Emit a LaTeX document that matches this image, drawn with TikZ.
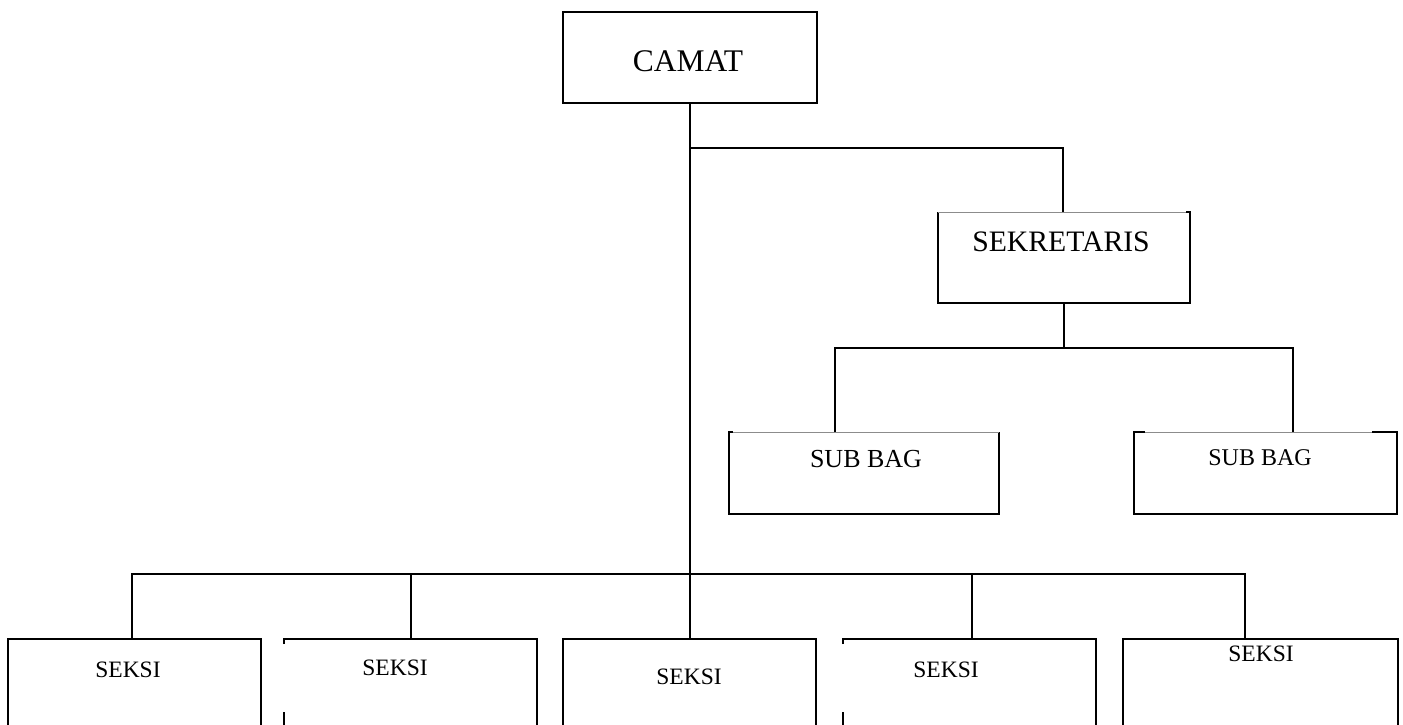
\documentclass[tikz,border=0pt]{standalone}
\usepackage{fontspec}
\setmainfont{Liberation Serif}
\begin{document}
\begin{tikzpicture}[x=1pt,y=-1pt,line width=1.7pt,
  frame/.style={rectangle,inner sep=0pt,outer sep=0pt,anchor=north west},
  fullbox/.style={frame,draw=black},
  softtop/.style={draw=black!45,line width=1pt},
  big/.style={font=\fontsize{31.5}{37}\selectfont},
  mid/.style={font=\fontsize{29.7}{35}\selectfont},
  sub/.style={font=\fontsize{26}{31}\selectfont},
  small/.style={font=\fontsize{23.5}{28}\selectfont}]
\useasboundingbox (0,0) rectangle (1403,725);
\clip (0,0) rectangle (1403,725);

% boxes
\node[fullbox,minimum width=254pt,minimum height=91pt] (camat) at (563,12) {};
\node[frame,minimum width=252pt,minimum height=91pt] (sek) at (938,212) {};
\node[frame,minimum width=270pt,minimum height=82pt] (sb1) at (729,432) {};
\node[frame,minimum width=263pt,minimum height=82pt] (sb2) at (1134,432) {};
\node[fullbox,minimum width=253pt,minimum height=120pt] (k1) at (8,639) {};
\node[frame,minimum width=253pt,minimum height=120pt] (k2) at (284,639) {};
\node[fullbox,minimum width=253pt,minimum height=120pt] (k3) at (563,639) {};
\node[frame,minimum width=253pt,minimum height=120pt] (k4) at (843,639) {};
\node[fullbox,minimum width=275pt,minimum height=120pt] (k5) at (1123,639) {};

% partial frames
\draw (sek.north west) -- (sek.south west) -- (sek.south east) -- (sek.north east) -- ++(-4,0);
\draw[softtop] (sek.north west) -- ([xshift=-4pt]sek.north east);
\draw ([xshift=4pt]sb1.north west) -- (sb1.north west) -- (sb1.south west) -- (sb1.south east) -- (sb1.north east);
\draw[softtop] ([xshift=4pt]sb1.north west) -- (sb1.north east);
\draw ([xshift=11pt]sb2.north west) -- (sb2.north west) -- (sb2.south west) -- (sb2.south east) -- (sb2.north east) -- ++(-25,0);
\draw[softtop] ([xshift=11pt]sb2.north west) -- ([xshift=-25pt]sb2.north east);
\draw ([yshift=-5pt]k2.north west) -- (k2.north west) -- (k2.north east) -- (k2.south east) -- (k2.south west) -- (k2.west |- 0,712);
\draw ([yshift=-5pt]k4.north west) -- (k4.north west) -- (k4.north east) -- (k4.south east) -- (k4.south west) -- (k4.west |- 0,712);

% texts
\node[big] (tcamat) at (688,61) {CAMAT};
\node[mid] (tsek) at (1061,242) {SEKRETARIS};
\node[sub] (tsb1) at (866,459) {SUB BAG};
\node[sub,font=\fontsize{24}{29}\selectfont] (tsb2) at (1260,458) {SUB BAG};
\node[small] (tk1) at (128,670) {SEKSI};
\node[small] (tk2) at (395,668) {SEKSI};
\node[small] (tk3) at (689,677) {SEKSI};
\node[small] (tk4) at (946,670) {SEKSI};
\node[small] (tk5) at (1261,654) {SEKSI};

% junction coordinates
\coordinate (j1) at (689,148);
\coordinate (j2) at (1063,148);
\coordinate (s1) at (835,348);
\coordinate (s2) at (1293,348);
\coordinate (b1) at (132,574);
\coordinate (b2) at (411,574);
\coordinate (b3) at (689,574);
\coordinate (b4) at (972,574);
\coordinate (b5) at (1245,574);

% connectors
\draw (camat.south) -- (camat.south |- k3.north);
\draw (j1) -- (j2) -- (j2 |- sek.north);
\draw (sek.south) -- (sek.south |- s1);
\draw (s1 |- sb1.north) -- (s1) -- (s2) -- (s2 |- sb2.north);
\draw (b1 |- k1.north) -- (b1) -- (b5) -- (b5 |- k5.north);
\draw (b2) -- (b2 |- k2.north);
\draw (b4) -- (b4 |- k4.north);
\end{tikzpicture}
\end{document}
